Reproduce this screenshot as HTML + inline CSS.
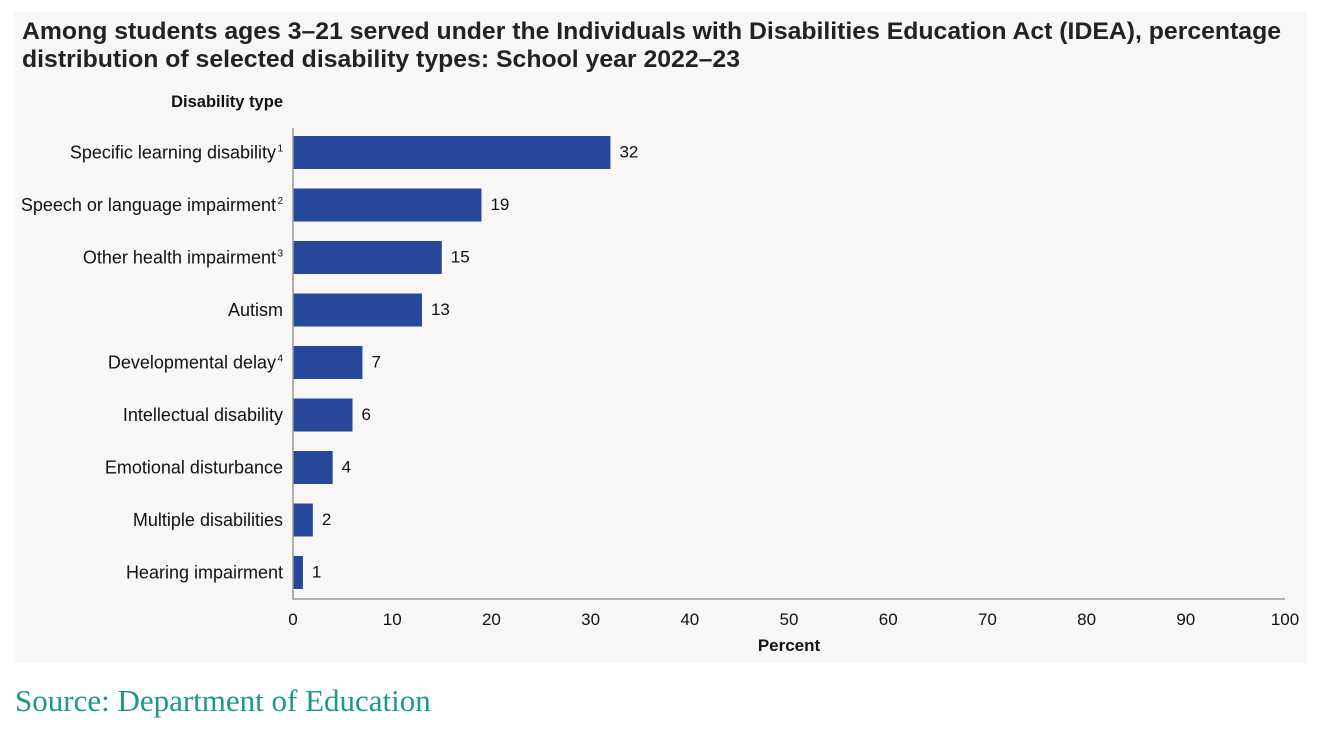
<!DOCTYPE html>
<html><head><meta charset="utf-8"><style>
body{margin:0;background:#fff;width:1340px;height:736px;overflow:hidden;font-family:"Liberation Sans",sans-serif}
</style></head><body>
<svg width="1340" height="736">
<rect x="14" y="12" width="1293" height="651" fill="#f8f7f5"/>
<text x="22" y="39" font-size="24" font-weight="bold" fill="#222" textLength="1259" lengthAdjust="spacingAndGlyphs">Among students ages 3–21 served under the Individuals with Disabilities Education Act (IDEA), percentage</text>
<text x="22" y="67" font-size="24" font-weight="bold" fill="#222" textLength="718" lengthAdjust="spacingAndGlyphs">distribution of selected disability types: School year 2022–23</text>
<text x="283" y="107" font-size="16.5" font-weight="bold" text-anchor="end" fill="#111">Disability type</text>
<g id="plot"></g>
<text x="789" y="651" font-size="17" font-weight="bold" text-anchor="middle" fill="#111">Percent</text>
<text x="15" y="711" font-size="31" fill="#1a9a86" font-family="'Liberation Serif',serif">Source: Department of Education</text>
</svg>
<script>
const categories=["Specific learning disability","Speech or language impairment","Other health impairment","Autism","Developmental delay","Intellectual disability","Emotional disturbance","Multiple disabilities","Hearing impairment"];
const sups=["1","2","3","","4","","","",""];
const values=[32,19,15,13,7,6,4,2,1];
const ticks=[0,10,20,30,40,50,60,70,80,90,100];
const NS="http://www.w3.org/2000/svg";
const g=document.getElementById('plot');
const x=v=>293+v*9.92;
const yc=i=>152.5+i*52.5;
function mk(t,a,txt){const e=document.createElementNS(NS,t);for(const k in a)e.setAttribute(k,a[k]);if(txt!==undefined)e.textContent=txt;g.appendChild(e);return e;}
categories.forEach((c,i)=>{
  const r=mk('rect',{x:x(0),y:yc(i)-16.5,width:x(values[i])-x(0),height:33,fill:'#26479a'});
  
  
  const v=mk('text',{x:x(values[i])+9,y:yc(i)+5,'font-size':17,fill:'#111'},values[i]);
  
  
  const l=mk('text',{x:sups[i]?283-7:283,y:yc(i)+6,'font-size':18,'text-anchor':'end',fill:'#111'},c);
  
  
  if(sups[i]){const s=mk('text',{x:283,y:yc(i)-1,'font-size':10,'text-anchor':'end',fill:'#111'},sups[i]);
  
  }
});
const ax=mk('path',{d:`M${x(0)},128V599H${x(100)}`,stroke:'#999',fill:'none','stroke-width':1.5});


ticks.forEach(t=>{
  const tl=mk('text',{x:x(t),y:625,'font-size':17,'text-anchor':'middle',fill:'#111'},t);
  
  
});
</script>
</body></html>
